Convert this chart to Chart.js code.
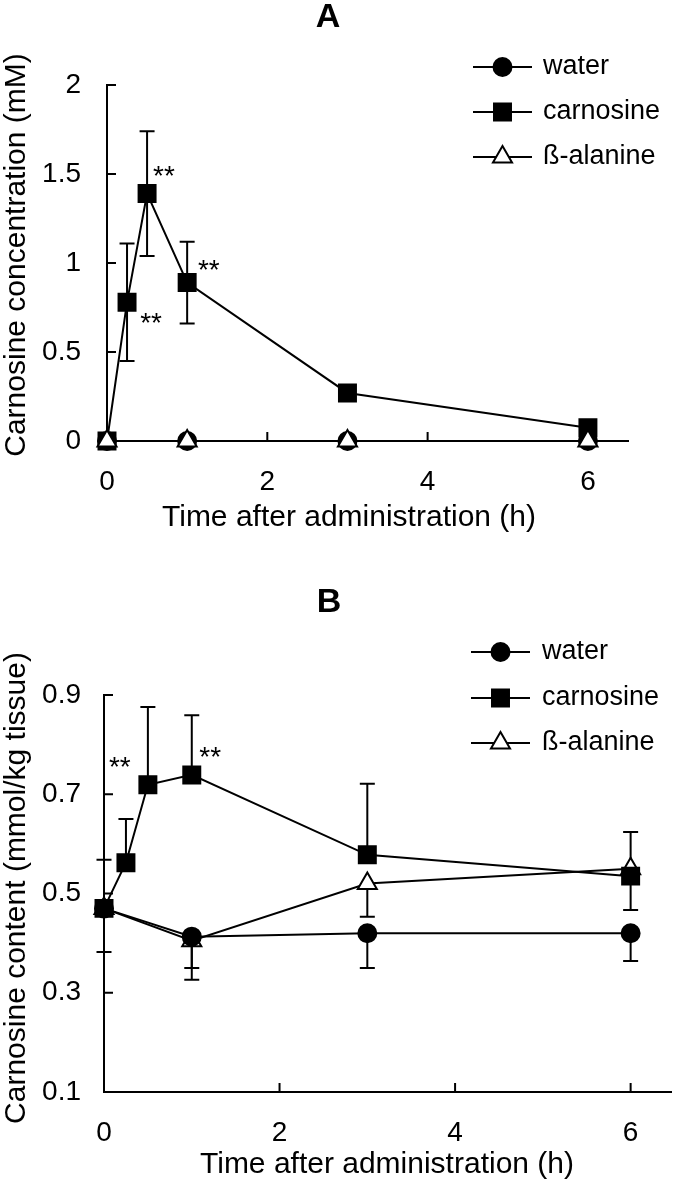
<!DOCTYPE html>
<html>
<head>
<meta charset="utf-8">
<title>Carnosine after oral administration</title>
<script src="https://cdn.jsdelivr.net/npm/chart.js@4.4.1/dist/chart.umd.min.js"></script>
<style>
    html, body { margin: 0; padding: 0; background: #fff; }
    canvas { display: block; }
</style>
</head>
<body>
<canvas id="chartA" width="685" height="575"></canvas>
<canvas id="chartB" width="685" height="611"></canvas>
<script>
const FONT = '"Liberation Sans", Arial, sans-serif';

// time points (h)
const timesCarnosine = [0, 0.25, 0.5, 1, 3, 6];
const timesOther = [0, 1, 3, 6];
const xTickValues = [0, 2, 4, 6];
const seriesLabels = ['water', 'carnosine', 'ß-alanine'];

// A: carnosine concentration (mM)
const yTicksA = [0, 0.5, 1, 1.5, 2];
const waterA = [0, 0, 0, 0];
const carnosineA = [0, 0.78, 1.39, 0.89, 0.27, 0.075];
const carnosineErrA = [0, 0.33, 0.35, 0.23, 0, 0];
const alanineA = [0, 0, 0, 0];
const starsA = [[0.55, 0.70], [0.71, 1.53], [1.27, 1.0]];

// B: carnosine content (mmol/kg tissue)
const yTicksB = [0.1, 0.3, 0.5, 0.7, 0.9];
const waterB = [0.47, 0.413, 0.42, 0.42];
const waterErrB = [0.088, 0.063, 0.07, 0.056];
const carnosineB = [0.47, 0.562, 0.719, 0.739, 0.578, 0.535];
const carnosineErrB = [0.098, 0.088, 0.157, 0.12, 0.143, 0.089];
const alanineB = [0.47, 0.405, 0.52, 0.55];
const alanineErrB = [0, 0.079, 0.067, 0.083];
const starsB = [[0.18, 0.77], [1.21, 0.79]];

// marker look for water / carnosine / ß-alanine
const markers = [
    { style: 'circle', radius: 9, fill: '#000' },
    { style: 'rect', radius: 12, fill: '#000' },
    { style: 'triangle', radius: 11, fill: '#fff' }
];

function drawMarker(ctx, m, x, y) {
    ctx.beginPath();
    if (m.style === 'circle') {
        ctx.arc(x, y, m.radius, 0, Math.PI * 2);
    } else if (m.style === 'rect') {
        const h = m.radius * Math.SQRT1_2;
        ctx.rect(x - h, y - h, 2 * h, 2 * h);
    } else {
        const r = m.radius;
        ctx.moveTo(x, y - r);
        ctx.lineTo(x + r * Math.sin(Math.PI * 2 / 3), y + r / 2);
        ctx.lineTo(x - r * Math.sin(Math.PI * 2 / 3), y + r / 2);
        ctx.closePath();
    }
    ctx.fillStyle = m.fill;
    ctx.fill();
    ctx.lineWidth = 2;
    ctx.strokeStyle = '#000';
    ctx.stroke();
}

function makeDataset(i, xs, ys, order, errUp, errDown) {
    const m = markers[i];
    return {
        label: seriesLabels[i],
        data: xs.map((x, k) => ({ x: x, y: ys[k] })),
        borderColor: '#000',
        borderWidth: 2,
        tension: 0,
        pointStyle: m.style,
        pointRadius: m.radius,
        pointBackgroundColor: m.fill,
        pointBorderColor: '#000',
        pointBorderWidth: 2,
        clip: false,
        order: order,
        errUp: errUp,
        errDown: errDown
    };
}

function decorPlugin(p) {
    return {
        id: 'decor' + p.letter,
        beforeDatasetsDraw(chart) {
            const { ctx, chartArea, scales: { x, y } } = chart;
            ctx.save();
            ctx.strokeStyle = '#000';
            ctx.lineWidth = 2;
            // tick marks point into the plot
            ctx.beginPath();
            p.yTicks.forEach(v => {
                const py = y.getPixelForValue(v);
                ctx.moveTo(chartArea.left, py);
                ctx.lineTo(chartArea.left + 9, py);
            });
            xTickValues.forEach(v => {
                const px = x.getPixelForValue(v);
                ctx.moveTo(px, chartArea.bottom);
                ctx.lineTo(px, chartArea.bottom - 9);
            });
            ctx.stroke();

            // error bars (one or both directions)
            chart.data.datasets.forEach(ds => {
                ds.data.forEach((pt, k) => {
                    const px = x.getPixelForValue(pt.x);
                    [[ds.errUp, 1], [ds.errDown, -1]].forEach(([err, sign]) => {
                        if (!err || !err[k]) return;
                        const py0 = y.getPixelForValue(pt.y);
                        const py1 = y.getPixelForValue(pt.y + sign * err[k]);
                        ctx.beginPath();
                        ctx.moveTo(px, py0);
                        ctx.lineTo(px, py1);
                        ctx.moveTo(px - 7.5, py1);
                        ctx.lineTo(px + 7.5, py1);
                        ctx.stroke();
                    });
                });
            });
            ctx.restore();
        },
        afterDraw(chart) {
            const { ctx, scales: { x, y } } = chart;
            ctx.save();
            ctx.fillStyle = '#000';

            ctx.textAlign = 'center';
            ctx.textBaseline = 'alphabetic';
            ctx.font = `bold 34px ${FONT}`;
            ctx.fillText(p.letter, p.letterX, p.letterBase);

            // axis titles
            ctx.font = `30px ${FONT}`;
            ctx.textBaseline = 'middle';
            ctx.fillText('Time after administration (h)', p.xTitleX, p.xTitleY);
            ctx.save();
            ctx.translate(17, p.yTitleY);
            ctx.rotate(-Math.PI / 2);
            ctx.fillText(p.yTitle, 0, 0);
            ctx.restore();

            // significance marks
            ctx.font = `28px ${FONT}`;
            ctx.textBaseline = 'alphabetic';
            p.stars.forEach(s => {
                ctx.fillText('**', x.getPixelForValue(s[0]), y.getPixelForValue(s[1]) + 16);
            });

            // legend
            ctx.font = `27px ${FONT}`;
            ctx.textAlign = 'left';
            seriesLabels.forEach((label, i) => {
                const ry = p.legendRows[i];
                ctx.beginPath();
                ctx.moveTo(p.legendLine[0], ry);
                ctx.lineTo(p.legendLine[1], ry);
                ctx.lineWidth = 2;
                ctx.strokeStyle = '#000';
                ctx.stroke();
                drawMarker(ctx, markers[i], (p.legendLine[0] + p.legendLine[1]) / 2, ry);
                ctx.fillStyle = '#000';
                ctx.fillText(label, p.legendText, ry + 7);
            });
            ctx.restore();
        }
    };
}

function buildPanel(canvasId, p, datasets) {
    const ctx = document.getElementById(canvasId).getContext('2d');
    const tickFont = { family: FONT, size: 28 };
    return new Chart(ctx, {
        type: 'line',
        data: { datasets: datasets },
        options: {
            responsive: false,
            animation: false,
            devicePixelRatio: 1,
            events: [],
            layout: { padding: { left: 0, right: p.padRight, top: p.padTop, bottom: 0 } },
            plugins: { legend: { display: false }, tooltip: { enabled: false } },
            scales: {
                x: {
                    type: 'linear',
                    min: 0,
                    max: p.xMax,
                    grid: { display: false, drawTicks: false },
                    border: { display: true, color: '#000', width: 2 },
                    ticks: { color: '#000', font: tickFont, padding: p.xTickPad, maxRotation: 0,
                        callback: v => String(v) },
                    afterBuildTicks: s => { s.ticks = xTickValues.map(v => ({ value: v })); },
                    afterFit: s => { s.height = p.xAxisHeight; }
                },
                y: {
                    type: 'linear',
                    min: p.yMin,
                    max: p.yMax,
                    grid: { display: false, drawTicks: false },
                    border: { display: true, color: '#000', width: 2 },
                    ticks: { color: '#000', font: tickFont, padding: p.yTickPad,
                        callback: v => String(v) },
                    afterBuildTicks: s => { s.ticks = p.yTicks.map(v => ({ value: v })); },
                    afterFit: s => { s.width = p.yAxisWidth; }
                }
            }
        },
        plugins: [decorPlugin(p)]
    });
}

const panelA = {
    letter: 'A', letterX: 328, letterBase: 27,
    yTitle: 'Carnosine concentration (mM)', yTitleY: 255,
    xTitleX: 349, xTitleY: 518,
    yTicks: yTicksA, yMin: 0, yMax: 2, xMax: 6.5,
    padTop: 85, padRight: 57, yAxisWidth: 107, xAxisHeight: 134,
    yTickPad: 26, xTickPad: 24,
    legendRows: [67, 112, 157], legendLine: [473, 532], legendText: 543,
    stars: starsA
};

const panelB = {
    letter: 'B', letterX: 329, letterBase: 37,
    yTitle: 'Carnosine content (mmol/kg tissue)', yTitleY: 313,
    xTitleX: 387, xTitleY: 590,
    yTicks: yTicksB, yMin: 0.1, yMax: 0.9, xMax: 6.46,
    padTop: 120, padRight: 1, yAxisWidth: 104, xAxisHeight: 94,
    yTickPad: 23, xTickPad: 24,
    legendRows: [77, 123, 168], legendLine: [471, 530], legendText: 542,
    stars: starsB
};

buildPanel('chartA', panelA, [
    makeDataset(0, timesOther, waterA, 1),
    makeDataset(1, timesCarnosine, carnosineA, 2, carnosineErrA, carnosineErrA),
    makeDataset(2, timesOther, alanineA, 0)
]);

buildPanel('chartB', panelB, [
    makeDataset(0, timesOther, waterB, 1, null, waterErrB),
    makeDataset(1, timesCarnosine, carnosineB, 0, carnosineErrB, null),
    makeDataset(2, timesOther, alanineB, 2, null, alanineErrB)
]);
</script>
</body>
</html>
